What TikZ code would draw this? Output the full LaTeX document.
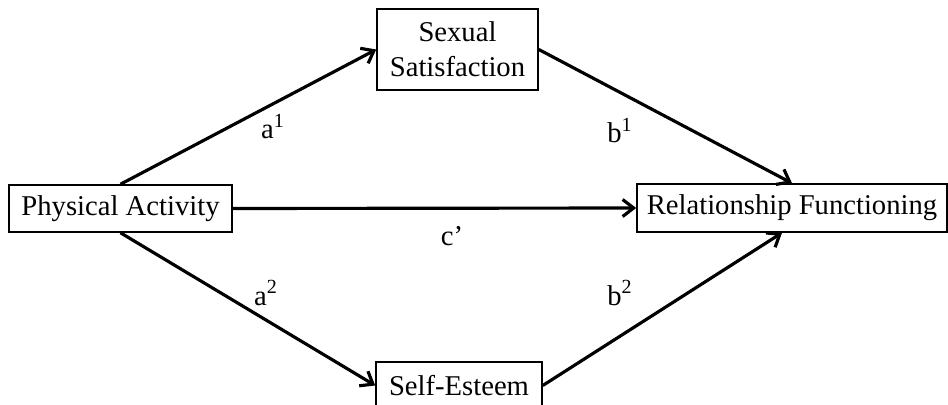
\documentclass[tikz,border=0pt]{standalone}
\usepackage{fontspec}
\setmainfont{Liberation Serif}
\usetikzlibrary{arrows.meta}

\begin{document}
\begin{tikzpicture}[
    var/.style={draw, line width=0.9pt, inner sep=0pt, align=center,
        font=\fontsize{16.3}{20}\selectfont},
    path/.style={line width=1.8pt, -{Straight Barb[length=2.2mm,width=3.4mm]}},
    lab/.style={inner sep=0pt, font=\fontsize{16.3}{20}\selectfont}
]

    \useasboundingbox (0,0) rectangle (18.96,8.08);
    \clip (0,0) rectangle (18.96,8.08);

    % Variables
    \node[var, minimum width=4.46cm, minimum height=0.94cm] (pa) at (2.41,3.91) {Physical Activity};
    \node[var, minimum width=3.22cm, minimum height=1.62cm] (ss) at (9.15,7.09) {Sexual\\Satisfaction};
    \node[var, minimum width=3.32cm, minimum height=0.94cm] (se) at (9.18,0.37) {Self-Esteem};
    \node[var, minimum width=6.2cm, minimum height=0.96cm] (rf) at (15.84,3.92) {Relationship Functioning};

    % Paths
    \draw[path] (pa.north) -- (ss.west);
    \draw[path] (pa.south) -- (se.west);
    \draw[path] (ss.east) -- (rf.north);
    \draw[path] (se.east) -- ([xshift=-0.2cm]rf.south);
    \draw[path] (pa.east) -- (rf.west);

    % Path labels
    \node[lab] (a1) at (5.46,5.54) {a\textsuperscript{1}};
    \node[lab] (a2) at (5.32,2.22) {a\textsuperscript{2}};
    \node[lab] (b1) at (12.4,5.46) {b\textsuperscript{1}};
    \node[lab] (b2) at (12.4,2.22) {b\textsuperscript{2}};
    \node[lab] (c) at (9.04,3.36) {c’};

\end{tikzpicture}
\end{document}
